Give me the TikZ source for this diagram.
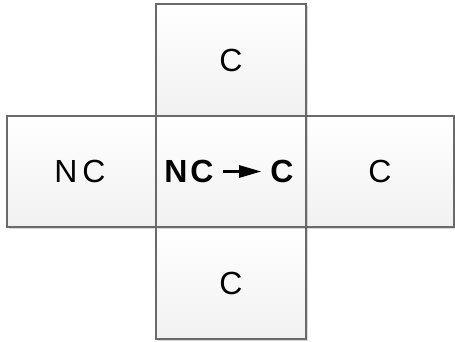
\documentclass[tikz,border=0pt]{standalone}
\usepackage{fontspec}
\setmainfont{Liberation Sans}
\usetikzlibrary{shadows,arrows.meta}
\definecolor{edge}{HTML}{6A6A6A}
\definecolor{boxbot}{HTML}{F1F1F1}
\tikzset{
  cell/.style={draw=edge, line width=1.1pt, top color=white, bottom color=boxbot,
    inner sep=0pt, font=\fontsize{32}{38}\selectfont,
    drop shadow={shadow xshift=1.6pt, shadow yshift=-1.6pt, opacity=0.15, fill=black}},
  boldtxt/.style={inner sep=0pt, font=\fontsize{32}{38}\selectfont\bfseries}
}
\begin{document}
\begin{tikzpicture}[x=1pt,y=1pt]
\useasboundingbox (0,0) rectangle (455,-341);
\node[cell, minimum width=149pt, minimum height=111pt] (left) at (81.5,-171.5) {N\kern5pt C\kern3pt};
\node[cell, minimum width=148pt, minimum height=111pt] (right) at (380,-171.5) {C};
\node[cell, minimum width=150pt, minimum height=112pt] (top) at (231,-60) {C};
\node[cell, minimum width=150pt, minimum height=112pt] (bottom) at (231,-283) {C};
\node[cell, minimum width=150pt, minimum height=111pt] (center) at (231,-171.5) {};
\node[boldtxt] (ncl) at (189,-171.5) {N\kern3pt C};
\node[boldtxt] (ncr) at (282,-171.5) {C};
\draw[line width=2.6pt, -{Triangle[length=22pt, width=12pt]}, shorten <=9pt, shorten >=9pt] (ncl.east) -- (ncr.west);
\end{tikzpicture}
\end{document}
